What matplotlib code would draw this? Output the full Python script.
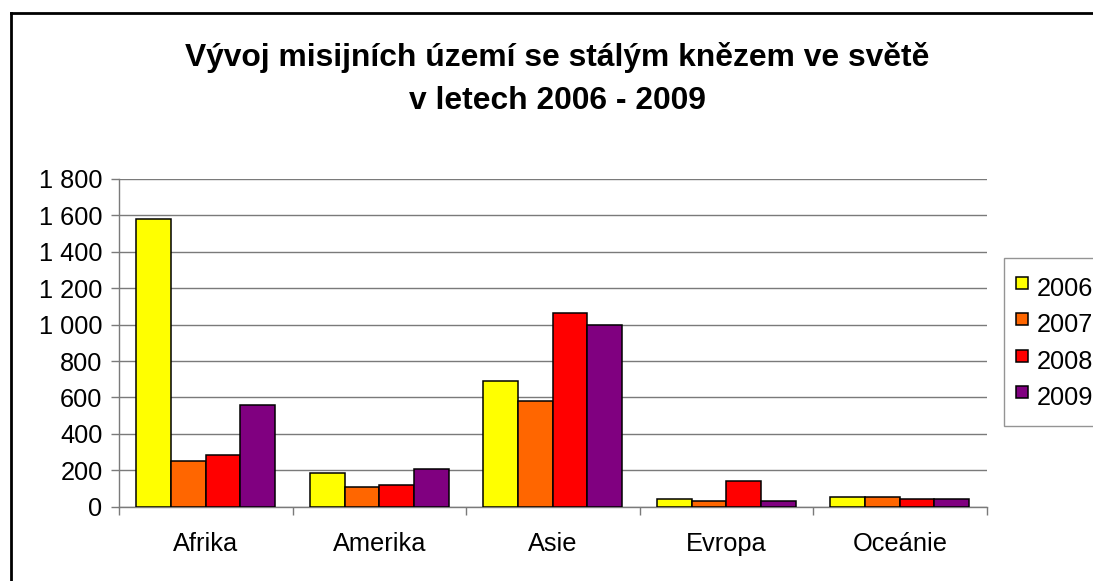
import matplotlib
matplotlib.use("Agg")
import matplotlib.pyplot as plt
import numpy as np
from matplotlib.lines import Line2D
from matplotlib.ticker import FuncFormatter

categories = ["Afrika", "Amerika", "Asie", "Evropa", "Oceánie"]
years = ["2006", "2007", "2008", "2009"]
v2006 = [1580, 185, 690, 42, 53]
v2007 = [250, 108, 580, 30, 53]
v2008 = [284, 121, 1064, 141, 42]
v2009 = [559, 207, 1000, 30, 42]
series = [v2006, v2007, v2008, v2009]
colors = ["#FFFF00", "#FF6600", "#FF0000", "#800080"]
title = "Vývoj misijních území se stálým knězem ve světě\nv letech 2006 - 2009"

plt.rcParams['font.family'] = ['Liberation Sans', 'DejaVu Sans']

W, H = 1093, 581
fig = plt.figure(figsize=(W / 100, H / 100), dpi=100)
fig.patch.set_facecolor("white")

left, right, bottom, top = 119, 986.5, 506.7, 179
ax = fig.add_axes([left / W, 1 - bottom / H, (right - left) / W, (bottom - top) / H])

n = len(categories)
bw = 0.2
x = np.arange(n) + 0.5
for i, (vals, c) in enumerate(zip(series, colors)):
    ax.bar(x + (i - 1.5) * bw, vals, width=bw, color=c, edgecolor="black",
           linewidth=1.1, zorder=3)

ax.set_xlim(0, n)
ax.set_ylim(0, 1800)
ax.set_yticks(np.arange(0, 1801, 200))
ax.yaxis.set_major_formatter(FuncFormatter(lambda v, p: f"{int(v):,}".replace(",", " ")))
ax.grid(axis="y", color="#7a7a7a", linewidth=1.0, zorder=0)
ax.set_axisbelow(True)

ax.set_xticks(np.arange(0, n + 1))
ax.set_xticklabels([])
ax.set_xticks(x, minor=True)
ax.set_xticklabels(categories, minor=True, fontsize=18.3)
ax.tick_params(axis="x", which="minor", length=0, pad=18)
ax.tick_params(axis="x", which="major", length=5.5, width=1, color="#7a7a7a", direction="out")
ax.tick_params(axis="y", length=5.8, width=1, color="#7a7a7a", direction="out",
                labelsize=18.3, pad=6)

for s in ["top", "right"]:
    ax.spines[s].set_visible(False)
for s in ["left", "bottom"]:
    ax.spines[s].set_color("#7a7a7a")
    ax.spines[s].set_linewidth(1.0)

fig.text(0.510, 1 - 79 / H, title, ha="center", va="center", fontsize=22.9,
         fontweight="bold", linespacing=1.55)

handles = [Line2D([], [], marker="s", linestyle="none", markersize=8,
                  markerfacecolor=c, markeredgecolor="black", markeredgewidth=1.1)
           for c in colors]
leg = fig.legend(handles, years, loc="upper left",
                 bbox_to_anchor=(1004 / W, 1 - 258 / H), bbox_transform=fig.transFigure,
                 borderaxespad=0, fontsize=18.3, frameon=True, fancybox=False,
                 handlelength=0.44, handleheight=1.72, handletextpad=0.35,
                 labelspacing=0.07, borderpad=0.48)
leg.get_frame().set_edgecolor("#7a7a7a")
leg.get_frame().set_linewidth(1.0)

# outer chart border (top and left visible)
fig.add_artist(Line2D([11 / W, 11 / W], [1 - 13 / H, -0.1], transform=fig.transFigure,
                      color="black", linewidth=2, solid_capstyle="projecting"))
fig.add_artist(Line2D([11 / W, 1.1], [1 - 13 / H, 1 - 13 / H], transform=fig.transFigure,
                      color="black", linewidth=2, solid_capstyle="projecting"))

fig.savefig("out.png", dpi=100)
